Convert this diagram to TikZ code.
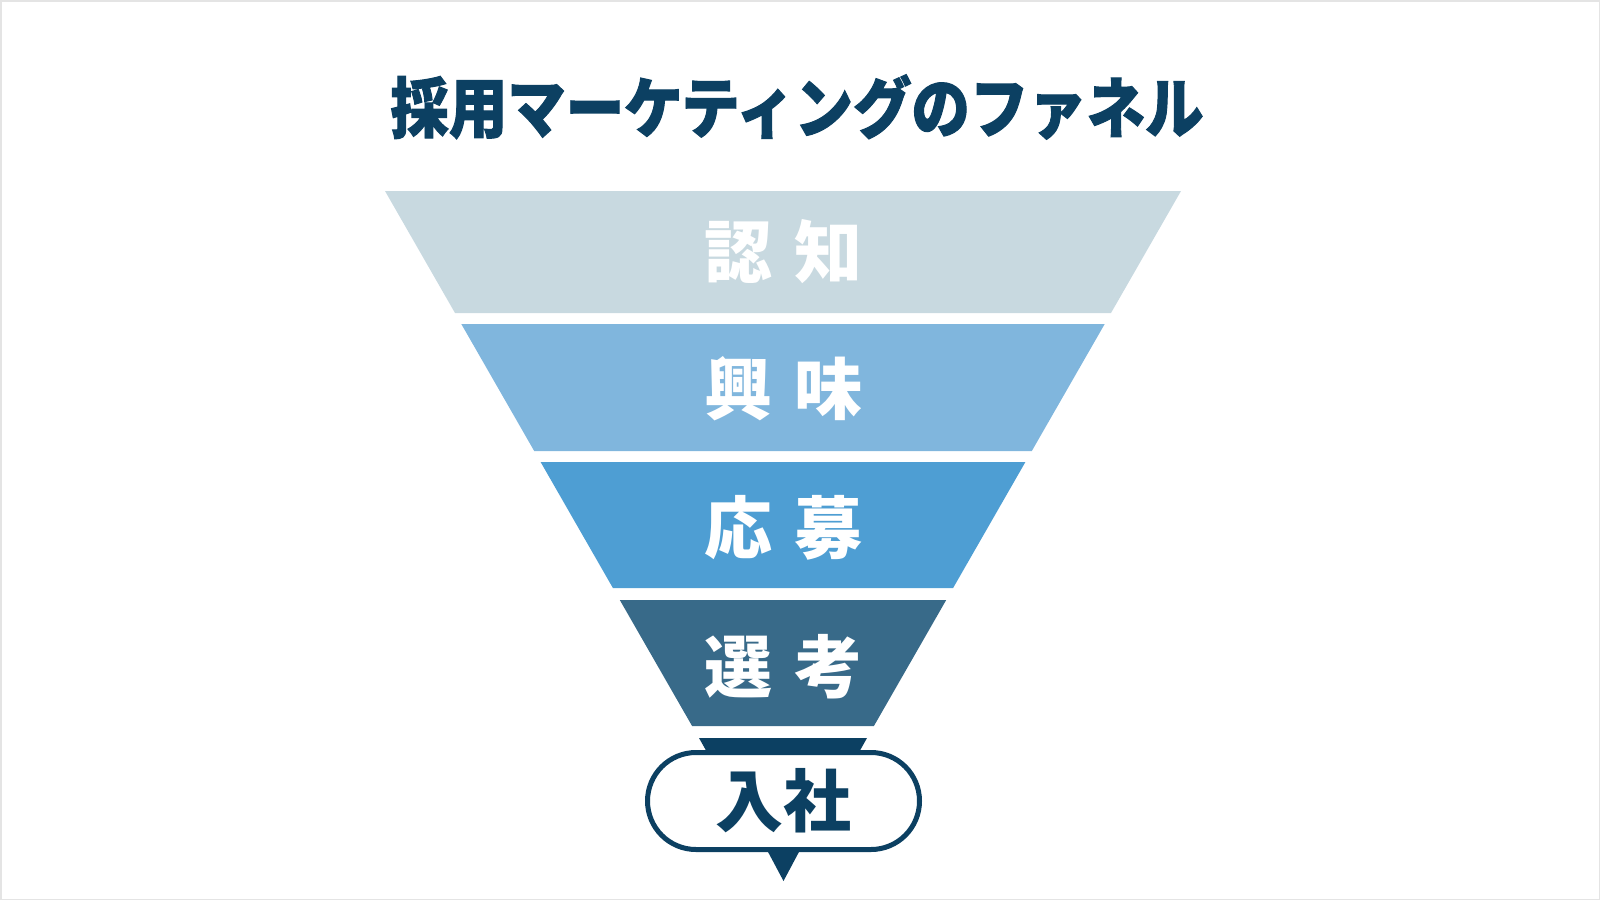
\documentclass[tikz,border=0pt]{standalone}
\usepackage{fontspec}
\usetikzlibrary{shapes.misc}
\newfontfamily\jp{Noto Sans CJK JP}
\newfontfamily\jpheavy{Noto Sans CJK JP}[BoldFeatures={FakeBold=1.6}]
\definecolor{navy}{HTML}{0C4062}
\definecolor{bandA}{HTML}{C8D9E0}
\definecolor{bandB}{HTML}{80B6DD}
\definecolor{bandC}{HTML}{4E9ED3}
\definecolor{bandD}{HTML}{386A89}
\definecolor{frame}{HTML}{E4E4E4}
\tikzset{
  bandlabel/.style={text=white, font=\jp\bfseries\fontsize{68}{68}\selectfont, inner sep=0pt},
  titletext/.style={text=navy, font=\jpheavy\bfseries\fontsize{66}{66}\selectfont, inner sep=0pt},
  pill/.style={draw=navy, line width=5pt, fill=white, rounded rectangle, minimum width=272pt, minimum height=97pt, inner sep=0pt,
    text=navy, font=\jp\bfseries\fontsize{68}{68}\selectfont},
}
\begin{document}
\begin{tikzpicture}[x=1pt,y=-1pt]
\useasboundingbox (0,0) rectangle (1600,900);
\draw[frame, line width=1.5pt] (0.75,0.75) rectangle (1599.25,899.25);
% title
\node[titletext] (title) at (797,107) {\scalebox{0.885}[1]{採用マーケティングのファネル}};
% bands
\fill[bandA] (385,191) -- (1181,191) -- (1111,313) -- (455,313) -- cycle;
\fill[bandB] (461.3,324) -- (1104.7,324) -- (1031.8,451) -- (534.2,451) -- cycle;
\fill[bandC] (540.6,462) -- (1025.4,462) -- (953.1,588) -- (612.9,588) -- cycle;
\fill[bandD] (619.8,600) -- (946.2,600) -- (873.9,726) -- (692.1,726) -- cycle;
\fill[navy] (699,738) -- (867,738) -- (849,770) -- (717,770) -- cycle;
% labels
\node[bandlabel] (l1) at (783.5,252) {認\hspace{22pt}知};
\node[bandlabel] (l2) at (783.5,389) {興\hspace{22pt}味};
\node[bandlabel] (l3) at (783.5,528) {応\hspace{22pt}募};
\node[bandlabel] (l4) at (783.5,667) {選\hspace{22pt}考};
% final pill
\node[pill] (hire) at (783.5,801) {入社};
\coordinate (tipL) at ([xshift=-16.5pt,yshift=2pt]hire.south);
\coordinate (tipR) at ([xshift=16.5pt,yshift=2pt]hire.south);
\coordinate (tip) at ([yshift=-29pt]hire.south);
\fill[navy] (tipL) -- (tipR) -- (tip) -- cycle;
\end{tikzpicture}
\end{document}
